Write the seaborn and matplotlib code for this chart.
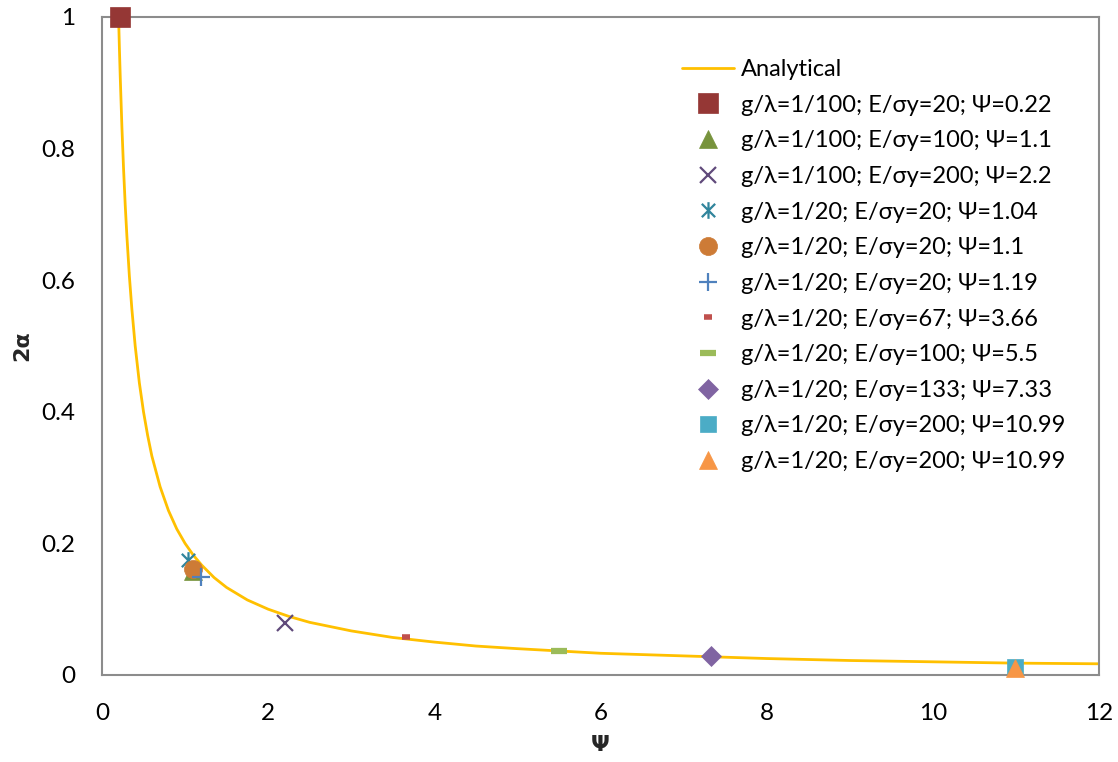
import matplotlib
matplotlib.use("Agg")
import matplotlib.pyplot as plt
import seaborn as sns
import numpy as np
from matplotlib.path import Path

# Analytical curve
curve_psi = [0.2, 0.21, 0.22, 0.24, 0.26, 0.28, 0.3, 0.33, 0.36, 0.4, 0.45, 0.5, 0.55, 0.6, 0.7, 0.8,
             0.9, 1.0, 1.1, 1.2, 1.35, 1.5, 1.75, 2.0, 2.25, 2.5, 3.0, 3.5, 4.0, 4.5, 5.0, 6.0, 7.0, 8.0,
             9.0, 10.0, 11.0, 12.0]
curve_2a = [1.0, 0.952, 0.909, 0.833, 0.769, 0.714, 0.667, 0.606, 0.556, 0.5, 0.444, 0.4, 0.364, 0.333,
            0.286, 0.25, 0.222, 0.2, 0.182, 0.167, 0.148, 0.133, 0.114, 0.1, 0.089, 0.08, 0.067, 0.057,
            0.05, 0.044, 0.04, 0.033, 0.029, 0.025, 0.022, 0.02, 0.018, 0.017]

# Simulation points
labels = [
    "g/λ=1/100; E/σy=20; Ψ=0.22",
    "g/λ=1/100; E/σy=100; Ψ=1.1",
    "g/λ=1/100; E/σy=200; Ψ=2.2",
    "g/λ=1/20; E/σy=20; Ψ=1.04",
    "g/λ=1/20; E/σy=20; Ψ=1.1",
    "g/λ=1/20; E/σy=20; Ψ=1.19",
    "g/λ=1/20; E/σy=67; Ψ=3.66",
    "g/λ=1/20; E/σy=100; Ψ=5.5",
    "g/λ=1/20; E/σy=133; Ψ=7.33",
    "g/λ=1/20; E/σy=200; Ψ=10.99",
    "g/λ=1/20; E/σy=200; Ψ=10.99",
]
pt_psi = [0.22, 1.1, 2.2, 1.04, 1.1, 1.19, 3.66, 5.5, 7.33, 10.99, 10.99]
pt_2a = [1.0, 0.158, 0.079, 0.175, 0.161, 0.149, 0.058, 0.037, 0.029, 0.012, 0.010]

x_ticks = [0, 2, 4, 6, 8, 10, 12]
y_ticks = [0, 0.2, 0.4, 0.6, 0.8, 1.0]
y_tick_labels = ["0", "0.2", "0.4", "0.6", "0.8", "1"]

asterisk = Path([(-1, -1), (1, 1), (-1, 1), (1, -1), (0, -1.25), (0, 1.25)],
                [Path.MOVETO, Path.LINETO, Path.MOVETO, Path.LINETO, Path.MOVETO, Path.LINETO])

styles = [
    dict(marker="s", ms=14, color="#953735", mfc="#953735", mec="#953735", mew=0.5),
    dict(marker="^", ms=13, color="#77933C", mfc="#77933C", mec="#77933C", mew=0.5),
    dict(marker="x", ms=12, color="#604A7B", mfc="none", mec="#604A7B", mew=1.6),
    dict(marker=asterisk, ms=12, color="#31859C", mfc="none", mec="#31859C", mew=1.6),
    dict(marker="o", ms=13, color="#CD7B36", mfc="#CD7B36", mec="#CD7B36", mew=0.5),
    dict(marker="+", ms=13, color="#4F81BD", mfc="none", mec="#4F81BD", mew=1.6),
    dict(marker="_", ms=6, color="#C0504D", mfc="#C0504D", mec="#C0504D", mew=4),
    dict(marker="_", ms=11, color="#9BBB59", mfc="#9BBB59", mec="#9BBB59", mew=4.5),
    dict(marker="D", ms=10, color="#8064A2", mfc="#8064A2", mec="#8064A2", mew=0.5),
    dict(marker="s", ms=12, color="#4BACC6", mfc="#4BACC6", mec="#4BACC6", mew=0.5),
    dict(marker="^", ms=13, color="#F79646", mfc="#F79646", mec="#F79646", mew=0.5),
]

sns.set_theme(style="white")
plt.rcParams['font.family'] = ['Lato', 'DejaVu Sans']

fig = plt.figure(figsize=(11.18, 7.62), dpi=100)
ax = fig.add_axes([0.0912, 0.1142, 0.8918, 0.8635])

sns.lineplot(x=curve_psi, y=curve_2a, ax=ax, color="#FFC000", linewidth=2,
             label="Analytical", errorbar=None, sort=False)
for lab, px, py, st in zip(labels, pt_psi, pt_2a, styles):
    sns.lineplot(x=[px], y=[py], ax=ax, linestyle="", label=lab, errorbar=None,
                 clip_on=False, zorder=5, **st)

ax.set_xlim(0, 12)
ax.set_ylim(0, 1)
ax.set_xticks(x_ticks)
ax.set_xticklabels([str(t) for t in x_ticks])
ax.set_yticks(y_ticks)
ax.set_yticklabels(y_tick_labels)
ax.tick_params(axis="both", length=0, labelsize=17.5, colors="black")
ax.tick_params(axis="x", pad=20)
ax.tick_params(axis="y", pad=19)
for s in ax.spines.values():
    s.set_color("#8C8C8C")
    s.set_linewidth(1.5)
ax.set_xlabel("Ψ", fontsize=16, fontweight="bold", labelpad=8, family=['DejaVu Sans'])
ax.set_ylabel("2α", fontsize=16, fontweight="bold", labelpad=7, family=['DejaVu Sans'])

leg = ax.legend(loc="upper left", bbox_to_anchor=(0.5815, 0.936), frameon=False,
                fontsize=17, handlelength=2.2, handletextpad=0.3,
                labelspacing=0.62, numpoints=1, borderaxespad=0, borderpad=0)
for t in leg.get_texts():
    t.set_color("black")

fig.savefig("out.png", dpi=100)
